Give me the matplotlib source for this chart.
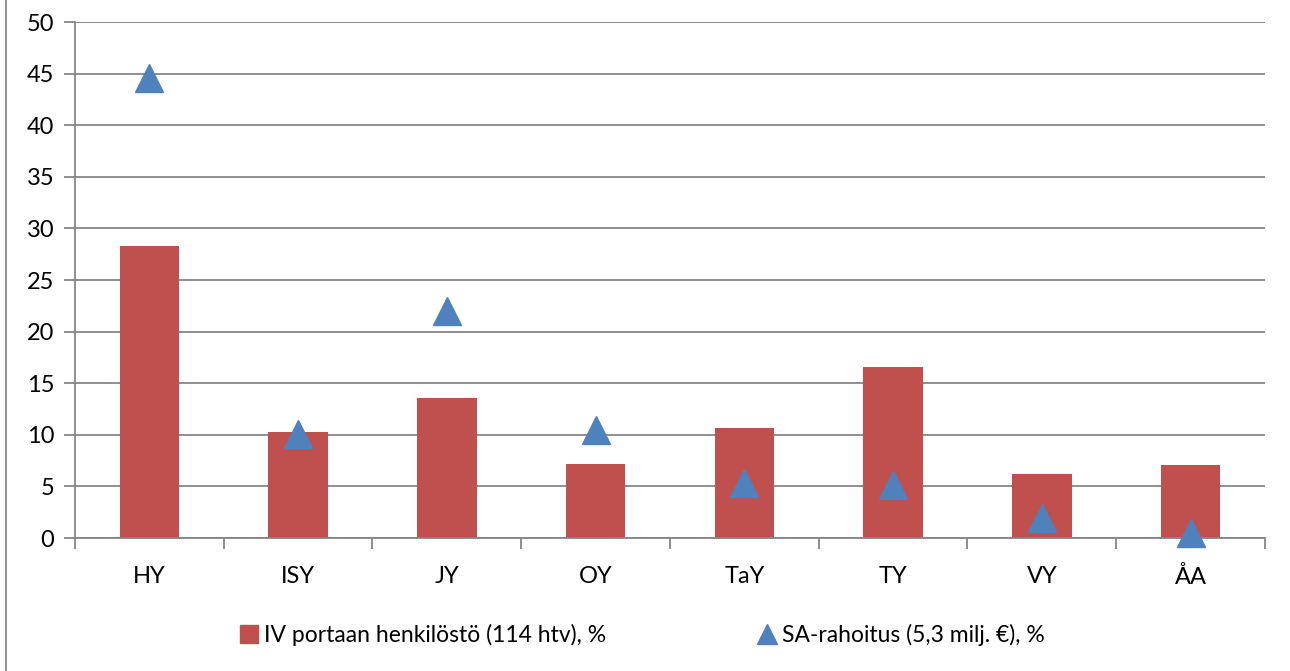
import numpy as np
import matplotlib
matplotlib.use("Agg")
import matplotlib.pyplot as plt
from matplotlib.lines import Line2D

plt.rcParams['font.family'] = ['Lato', 'DejaVu Sans']

categories = ["HY", "ISY", "JY", "OY", "TaY", "TY", "VY", "ÅA"]
henkilosto = [28.3, 10.3, 13.6, 7.2, 10.7, 16.6, 6.2, 7.1]
sa_rahoitus = [44.6, 10.1, 22.0, 10.5, 5.3, 5.1, 1.9, 0.5]
y_ticks = [0, 5, 10, 15, 20, 25, 30, 35, 40, 45, 50]

bar_color = "#c0504d"
tri_color = "#4f81bd"
grid_color = "#868686"

fig = plt.figure(figsize=(12.9, 6.71), dpi=100)
ax = fig.add_axes([0.0581, 0.1982, 0.9225, 0.769])

x = np.arange(len(categories))
ax.bar(x, henkilosto, width=0.4, color=bar_color, zorder=2)
ax.plot(x, sa_rahoitus, linestyle="none", marker="^", markersize=20,
        color=tri_color, zorder=3, clip_on=False)

ax.set_xlim(-0.5, len(categories) - 0.5)
ax.set_ylim(0, 50)
ax.set_yticks(y_ticks)
ax.set_yticklabels([str(v) for v in y_ticks], fontsize=17)
ax.yaxis.grid(True, color=grid_color, linewidth=1.3, zorder=0)
ax.set_axisbelow(True)

ax.set_xticks(np.arange(len(categories) + 1) - 0.5)
ax.set_xticklabels([])
ax.set_xticks(x, minor=True)
ax.set_xticklabels(categories, minor=True, fontsize=17)
ax.tick_params(axis="x", which="minor", length=0, pad=20)
ax.tick_params(axis="x", which="major", length=8, width=1.3, color=grid_color)
ax.tick_params(axis="y", length=8, width=1.3, color=grid_color, pad=7)

for side in ["top", "right"]:
    ax.spines[side].set_visible(False)
for side in ["left", "bottom"]:
    ax.spines[side].set_color(grid_color)
    ax.spines[side].set_linewidth(1.3)

handles = [
    Line2D([], [], linestyle="none", marker="s", markersize=13, color=bar_color),
    Line2D([], [], linestyle="none", marker="^", markersize=15, color=tri_color),
]
labels = ["IV portaan henkilöstö (114 htv), %", "SA-rahoitus (5,3 milj. €), %"]
fig.legend(handles, labels, loc="center", bbox_to_anchor=(0.497, 0.053), ncol=2,
           frameon=False, fontsize=16.5, handletextpad=0.15, columnspacing=6.5,
           handlelength=1)

fig.add_artist(Line2D([0.005, 0.005], [0, 1], transform=fig.transFigure,
                      color=grid_color, linewidth=1.3))

fig.savefig("out.png", dpi=100)
